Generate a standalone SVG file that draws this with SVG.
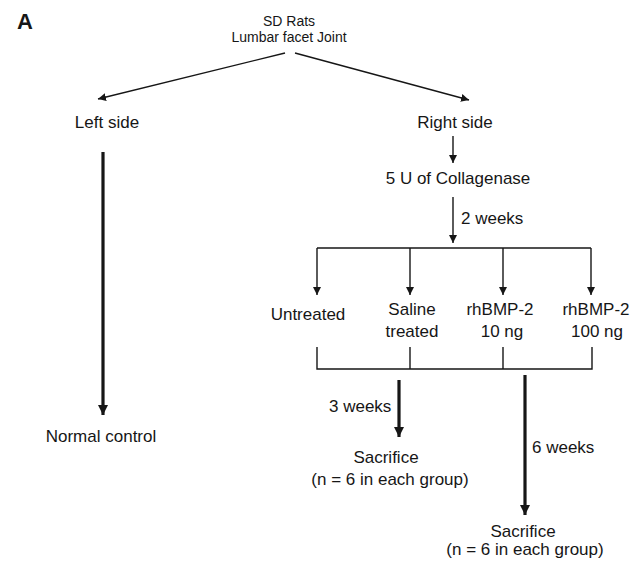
<svg xmlns="http://www.w3.org/2000/svg" width="644" height="562" viewBox="0 0 644 562">
<defs>
<style>
text{font-family:"Liberation Sans",Arial,sans-serif;fill:#161616;text-anchor:middle}
.t{font-size:17px}
.s{font-size:14px}
.l{stroke:#161616;fill:none;stroke-width:1.4}
.k{stroke:#161616;fill:none;stroke-width:3.2}
</style>
<marker id="ah" markerUnits="userSpaceOnUse" markerWidth="10" markerHeight="10" refX="8" refY="4" orient="auto">
<path d="M0,0 L8,4 L0,8 z" fill="#161616"/>
</marker>
<marker id="ahk" markerUnits="userSpaceOnUse" markerWidth="12" markerHeight="12" refX="10" refY="5" orient="auto">
<path d="M0,0 L10,5 L0,10 z" fill="#161616"/>
</marker>
</defs>
<rect width="644" height="562" fill="#fff"/>
<text x="17" y="29" style="font-size:22px;font-weight:bold;text-anchor:start">A</text>

<g id="connectors">
<line class="l" x1="285" y1="53" x2="98" y2="99" marker-end="url(#ah)"/>
<line class="l" x1="295" y1="53" x2="469" y2="100" marker-end="url(#ah)"/>
<line class="k" x1="103" y1="152" x2="103" y2="415" marker-end="url(#ahk)"/>
<line class="l" x1="453" y1="136" x2="453" y2="163" marker-end="url(#ah)"/>
<line class="l" x1="453" y1="197" x2="453" y2="243" marker-end="url(#ah)"/>
<line class="l" x1="317" y1="248" x2="591" y2="248"/>
<line class="l" x1="317" y1="248" x2="317" y2="295" marker-end="url(#ah)"/>
<line class="l" x1="410" y1="248" x2="410" y2="295" marker-end="url(#ah)"/>
<line class="l" x1="503" y1="248" x2="503" y2="295" marker-end="url(#ah)"/>
<line class="l" x1="591" y1="248" x2="591" y2="295" marker-end="url(#ah)"/>
<polyline class="l" points="317,347 317,369 592,369 592,347"/>
<line class="l" x1="410" y1="347" x2="410" y2="369"/>
<line class="l" x1="503" y1="347" x2="503" y2="369"/>
<line class="k" x1="399" y1="380" x2="399" y2="437" marker-end="url(#ahk)"/>
<line class="k" x1="525" y1="375" x2="525" y2="515" marker-end="url(#ahk)"/>
</g>

<g id="root"><text class="s" x="289" y="26">SD Rats</text><text class="s" x="289" y="42">Lumbar facet Joint</text></g>
<g id="left"><text class="t" x="107" y="128">Left side</text></g>
<g id="right"><text class="t" x="455" y="128">Right side</text></g>
<g id="normal"><text class="t" x="101" y="442">Normal control</text></g>
<g id="collagenase"><text class="t" x="458" y="184">5 U of Collagenase</text></g>
<g id="lbl2w"><text class="t" x="461" y="224" style="text-anchor:start">2 weeks</text></g>
<g id="untreated"><text class="t" x="308" y="320">Untreated</text></g>
<g id="saline"><text class="t" x="412" y="315">Saline</text><text class="t" x="412" y="337">treated</text></g>
<g id="bmp10"><text class="t" x="500" y="315">rhBMP-2</text><text class="t" x="502" y="337">10 ng</text></g>
<g id="bmp100"><text class="t" x="596" y="315">rhBMP-2</text><text class="t" x="597" y="337">100 ng</text></g>
<g id="lbl3w"><text class="t" x="329" y="412" style="text-anchor:start">3 weeks</text></g>
<g id="sac3"><text class="t" x="386" y="463">Sacrifice</text><text class="t" x="390" y="485">(n = 6 in each group)</text></g>
<g id="lbl6w"><text class="t" x="532" y="453" style="text-anchor:start">6 weeks</text></g>
<g id="sac6"><text class="t" x="523" y="537">Sacrifice</text><text class="t" x="525" y="555">(n = 6 in each group)</text></g>
</svg>
